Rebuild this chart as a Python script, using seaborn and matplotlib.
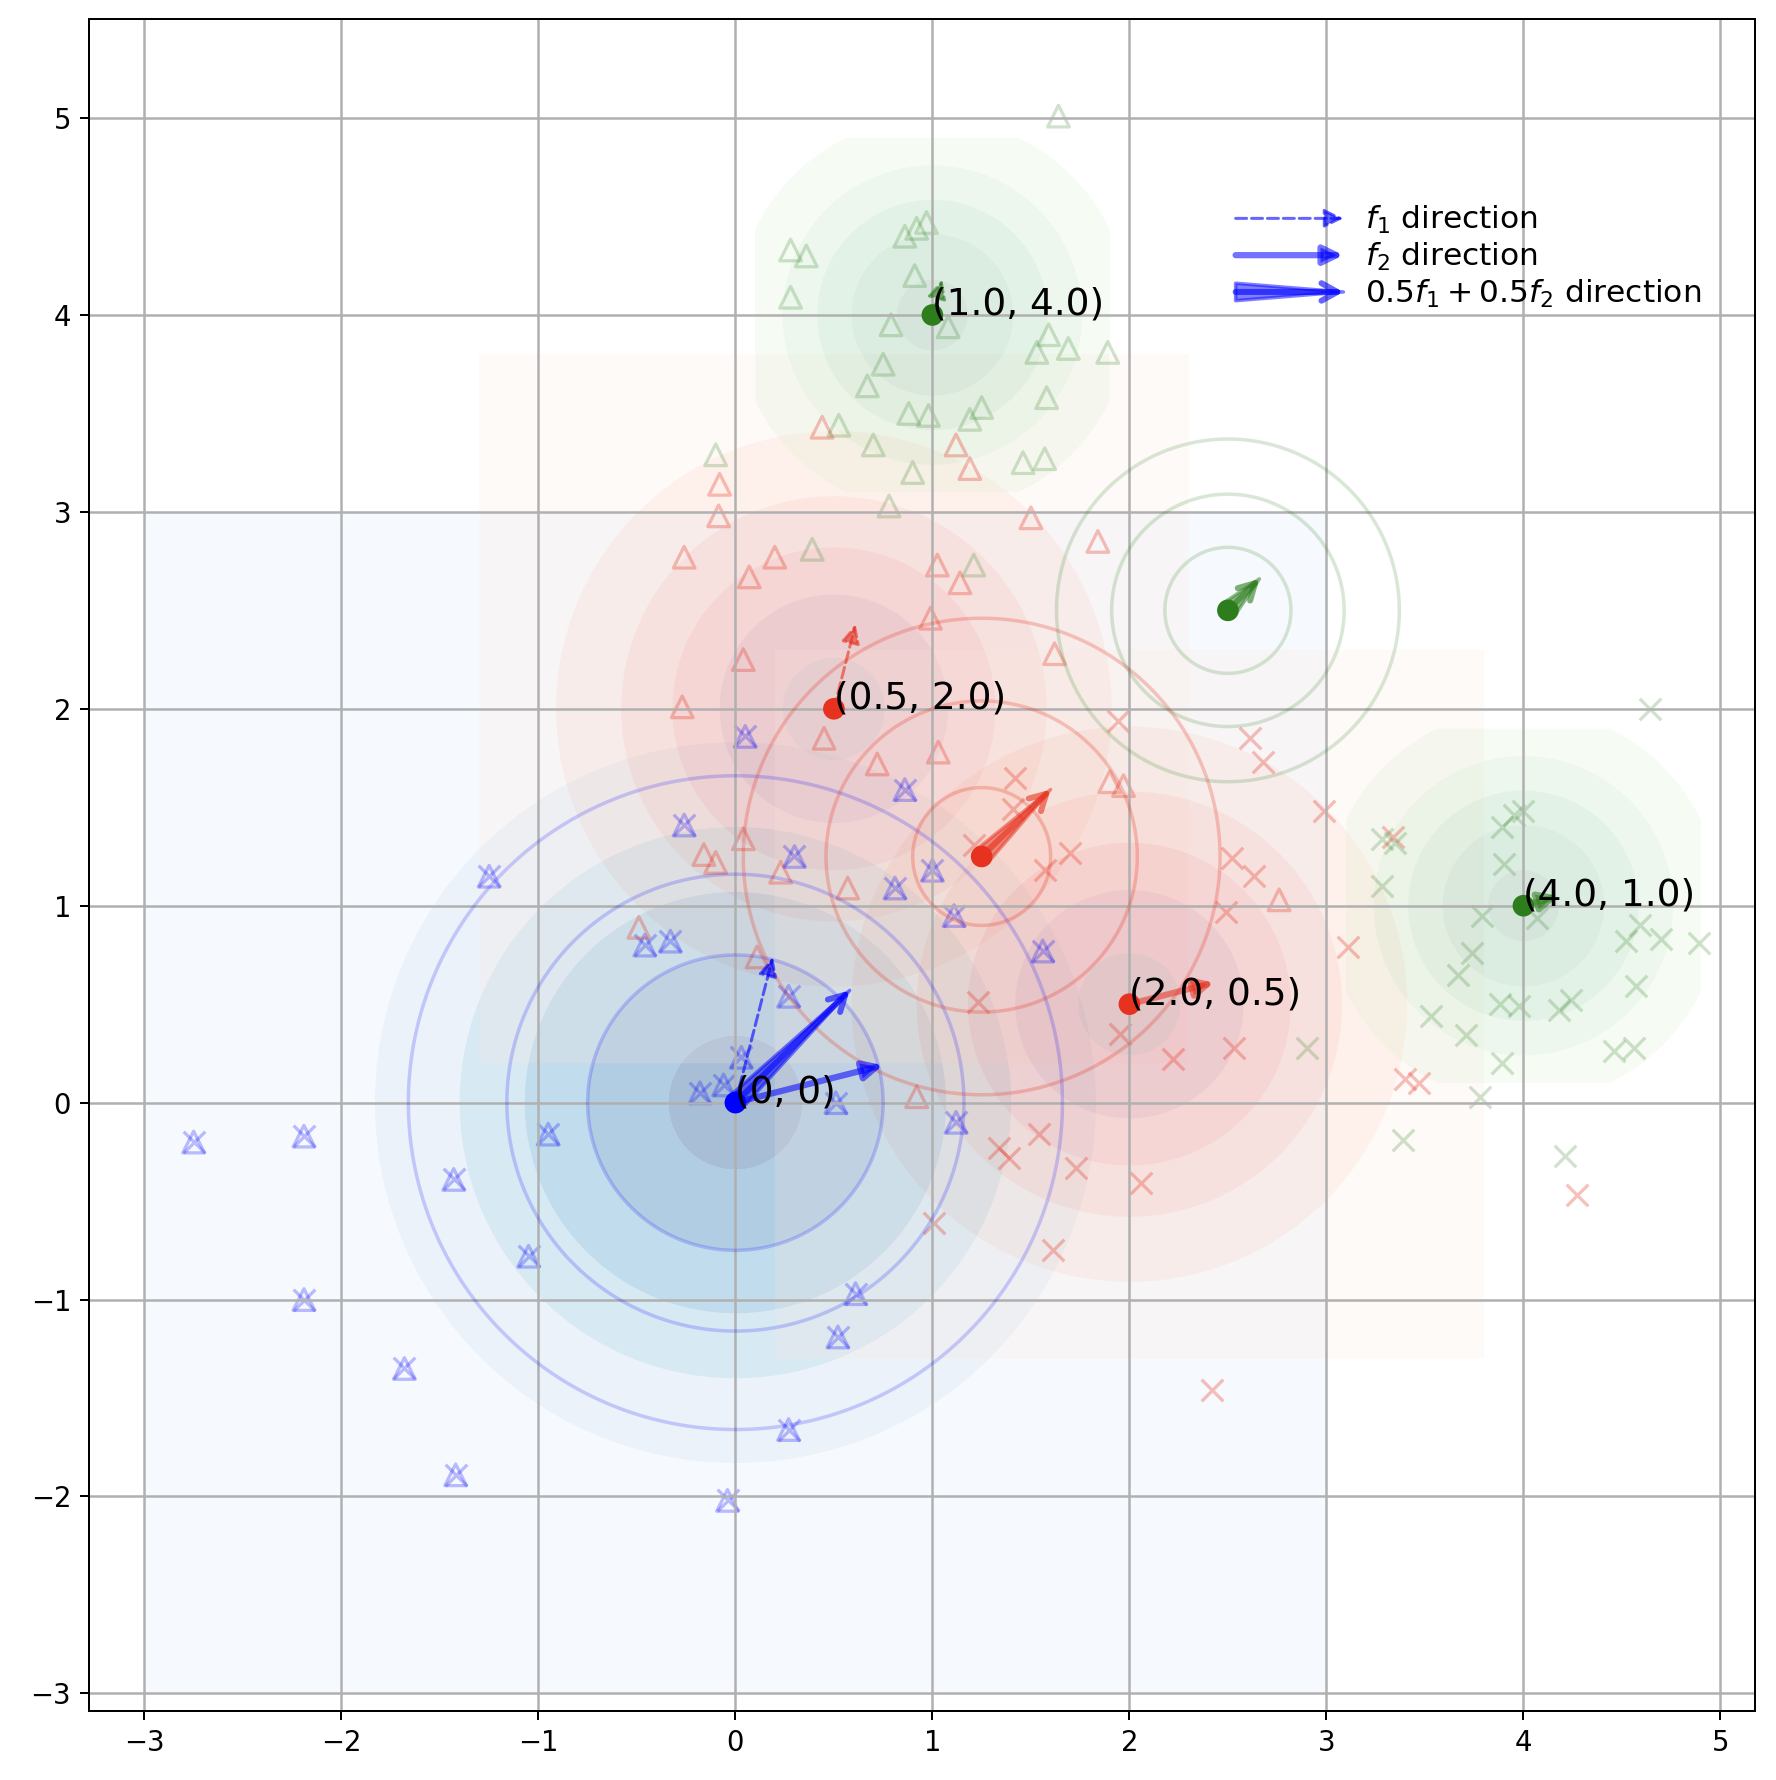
import numpy as np
import matplotlib.pyplot as plt
import seaborn as sns
from matplotlib.patches import FancyArrowPatch
from matplotlib.legend_handler import HandlerPatch

# ---- data ------------------------------------------------------------------
blue_c = (0.0, 0.0)
blue_fill_r = [0.34, 0.75, 1.07, 1.40, 1.83]
blue_box = 3.0
blue_line_r = [0.75, 1.16, 1.66]

red_c = [(0.5, 2.0), (2.0, 0.5)]
red_fill_r = [0.26, 0.58, 0.82, 1.08, 1.41]
red_box = 1.8
red_line_c = (1.25, 1.25)
red_line_r = [0.35, 0.79, 1.21]

green_c = [(1.0, 4.0), (4.0, 1.0)]
green_fill_r = [0.18, 0.41, 0.585, 0.76, 1.0]
green_box = 0.9
green_line_c = (2.5, 2.5)
green_line_r = [0.32, 0.59, 0.87]

blue_x = [-2.75, -2.19, -2.19, -1.68, -1.43, -1.42, -1.25, -1.05, -0.95, -0.46,
          -0.33, -0.26, -0.18, -0.06, -0.04, 0.03, 0.05, 0.27, 0.27, 0.30,
          0.51, 0.52, 0.61, 0.81, 0.86, 1.00, 1.11, 1.12, 1.56]
blue_y = [-0.20, -0.17, -1.00, -1.35, -0.39, -1.89, 1.15, -0.78, -0.16, 0.80,
          0.82, 1.41, 0.05, 0.09, -2.02, 0.23, 1.86, 0.54, -1.66, 1.25,
          0.00, -1.19, -0.97, 1.09, 1.59, 1.18, 0.95, -0.10, 0.77]

red_tri_x = [0.44, -0.08, -0.085, -0.26, 0.20, 0.07, 1.12, 1.19, 1.50, 1.025,
             1.14, 0.99, 1.62, 1.84, 0.04, -0.27, 0.45, 0.72, 1.03, 0.04,
             -0.16, -0.10, 0.23, 0.57, -0.49, 0.11, 0.92, 1.90, 1.97, 2.76]
red_tri_y = [3.43, 3.14, 2.98, 2.77, 2.77, 2.67, 3.34, 3.22, 2.97, 2.73,
             2.64, 2.46, 2.28, 2.85, 2.25, 2.01, 1.85, 1.72, 1.78, 1.34,
             1.26, 1.22, 1.17, 1.09, 0.89, 0.74, 0.03, 1.63, 1.61, 1.03]

red_x_x = [1.94, 2.61, 2.68, 1.42, 1.41, 2.99, 1.70, 1.57, 1.21, 2.52,
           2.63, 2.49, 3.11, 3.34, 1.23, 1.95, 2.22, 2.53, 1.54, 1.34,
           1.39, 1.73, 2.06, 1.61, 1.01, 2.42, 3.40, 3.47, 4.27]
red_x_y = [1.94, 1.85, 1.73, 1.65, 1.49, 1.48, 1.27, 1.18, 1.31, 1.24,
           1.15, 0.97, 0.79, 1.35, 0.51, 0.35, 0.22, 0.28, -0.16, -0.23,
           -0.28, -0.33, -0.41, -0.75, -0.61, -1.46, 0.12, 0.10, -0.47]

green_tri_x = [1.64, 0.28, 0.36, 0.86, 0.92, 0.97, 0.28, 0.91, 0.79, 1.08,
               1.59, 1.53, 1.69, 1.89, 0.75, 0.67, 1.58, 0.88, 0.98, 1.19,
               1.25, 0.525, 0.70, 0.90, 1.46, 1.57, -0.10, 0.78, 0.39, 1.21]
green_tri_y = [5.01, 4.33, 4.30, 4.40, 4.44, 4.47, 4.09, 4.20, 3.95, 3.94,
               3.90, 3.81, 3.83, 3.81, 3.75, 3.64, 3.58, 3.50, 3.49, 3.47,
               3.53, 3.44, 3.34, 3.20, 3.25, 3.27, 3.29, 3.03, 2.81, 2.73]

green_x_x = [4.64, 3.89, 3.95, 4.00, 3.28, 3.35, 3.90, 3.28, 3.79, 4.07,
             4.59, 4.52, 4.70, 4.89, 3.74, 3.67, 4.57, 3.88, 3.98, 4.24,
             4.18, 3.53, 3.71, 3.89, 4.46, 4.56, 2.90, 3.78, 3.39, 4.21]
green_x_y = [2.00, 1.40, 1.46, 1.48, 1.34, 1.32, 1.21, 1.10, 0.95, 0.94,
             0.90, 0.82, 0.83, 0.81, 0.76, 0.65, 0.59, 0.50, 0.49, 0.52,
             0.47, 0.44, 0.345, 0.20, 0.26, 0.28, 0.28, 0.03, -0.19, -0.27]

dot_x = [0.0, 0.5, 2.0, 1.25, 1.0, 4.0, 2.5]
dot_y = [0.0, 2.0, 0.5, 1.25, 4.0, 1.0, 2.5]
dot_group = ['b', 'r', 'r', 'r', 'g', 'g', 'g']

label_pts = [(0.0, 0.0), (0.5, 2.0), (2.0, 0.5), (1.0, 4.0), (4.0, 1.0)]
label_txt = ['(0, 0)', '(0.5, 2.0)', '(2.0, 0.5)', '(1.0, 4.0)', '(4.0, 1.0)']

# arrows: start -> end, colour group
f1_start = [(0.0, 0.0), (0.5, 2.0), (1.0, 4.0)]
f1_end = [(0.19, 0.74), (0.61, 2.43), (1.05, 4.18)]
f1_group = ['b', 'r', 'g']
f2_start = [(0.0, 0.0), (2.0, 0.5), (4.0, 1.0)]
f2_end = [(0.75, 0.19), (2.43, 0.61), (4.18, 1.05)]
f2_group = ['b', 'r', 'g']
mix_start = [(0.0, 0.0), (1.25, 1.25), (2.5, 2.5)]
mix_end = [(0.58, 0.57), (1.60, 1.59), (2.66, 2.66)]
mix_group = ['b', 'r', 'g']

col = {'b': '#0000ff', 'r': '#e6321f', 'g': '#2d7d1d'}

# ---- figure --------------------------------------------------------------
fig = plt.figure(figsize=(1776 / 180, 1780 / 180), dpi=180)
ax = fig.add_axes([0.0499, 0.0386, 0.938, 0.9506])


def rings(c, radii, half, cmap, alpha, outer=True):
    g0 = np.linspace(c[0] - half, c[0] + half, 401)
    g1 = np.linspace(c[1] - half, c[1] + half, 401)
    X, Y = np.meshgrid(g0, g1)
    D = np.hypot(X - c[0], Y - c[1])
    shades = plt.get_cmap(cmap)(np.linspace(1 / 12, 11 / 12, 6))[::-1]
    levels = [0] + list(radii)
    if outer:
        levels.append(D.max() + 1)
    ax.contourf(X, Y, D, levels=levels, colors=shades[:len(levels) - 1],
                alpha=alpha, antialiased=True)


def circles(c, radii, color, alpha):
    half = max(radii) + 0.2
    g0 = np.linspace(c[0] - half, c[0] + half, 401)
    g1 = np.linspace(c[1] - half, c[1] + half, 401)
    X, Y = np.meshgrid(g0, g1)
    D = np.hypot(X - c[0], Y - c[1])
    ax.contour(X, Y, D, levels=radii, colors=[color], alpha=alpha,
               linewidths=1.4, zorder=2)


rings(blue_c, blue_fill_r, blue_box, 'Blues', 0.35)
for c in red_c:
    rings(c, red_fill_r, red_box, 'Reds', 0.2)
for c in green_c:
    rings(c, green_fill_r, green_box, 'Greens', 0.16, outer=False)

circles(blue_c, blue_line_r, col['b'], 0.18)
circles(red_line_c, red_line_r, col['r'], 0.25)
circles(green_line_c, green_line_r, col['g'], 0.18)

# point clouds
tri = dict(marker='^', s=75, facecolor='none', linewidth=1.3, ax=ax, legend=False)
crs = dict(marker='x', s=75, linewidth=1.3, ax=ax, legend=False)
sns.scatterplot(x=blue_x, y=blue_y, edgecolor=col['b'], alpha=0.25, **tri)
sns.scatterplot(x=blue_x, y=blue_y, color=col['b'], alpha=0.25, **crs)
sns.scatterplot(x=red_tri_x, y=red_tri_y, edgecolor=col['r'], alpha=0.3, **tri)
sns.scatterplot(x=red_x_x, y=red_x_y, color=col['r'], alpha=0.3, **crs)
sns.scatterplot(x=green_tri_x, y=green_tri_y, edgecolor=col['g'], alpha=0.22, **tri)
sns.scatterplot(x=green_x_x, y=green_x_y, color=col['g'], alpha=0.22, **crs)

# arrow styles
f1_kw = dict(arrowstyle='-|>,head_length=0.45,head_width=0.22', ls='--', lw=1.2,
             alpha=0.6, mutation_scale=14, shrinkA=0, shrinkB=0)
f2_kw = dict(arrowstyle='-|>,head_length=0.45,head_width=0.22', lw=2.5,
             alpha=0.55, mutation_scale=14, shrinkA=0, shrinkB=0)
wedge_kw = dict(arrowstyle='wedge,tail_width=0.5,shrink_factor=0.5', lw=1.4,
                alpha=0.5, mutation_scale=14, shrinkA=0, shrinkB=0)
chev_kw = dict(arrowstyle='->,head_length=0.45,head_width=0.25', lw=2.4,
               alpha=0.6, mutation_scale=14, shrinkA=0, shrinkB=0)

for s, e, g in zip(f1_start, f1_end, f1_group):
    ax.annotate('', xy=e, xytext=s, arrowprops=dict(color=col[g], **f1_kw), zorder=3)
for s, e, g in zip(f2_start, f2_end, f2_group):
    ax.annotate('', xy=e, xytext=s, arrowprops=dict(color=col[g], **f2_kw), zorder=3)
for s, e, g in zip(mix_start, mix_end, mix_group):
    ax.annotate('', xy=e, xytext=s, arrowprops=dict(color=col[g], **wedge_kw), zorder=3)
    ax.annotate('', xy=e, xytext=s, arrowprops=dict(color=col[g], **chev_kw), zorder=3)

# centre dots and labels
sns.scatterplot(x=dot_x, y=dot_y, hue=dot_group, palette=col, s=75,
                linewidth=0, ax=ax, legend=False, zorder=4)
for (px, py), t in zip(label_pts, label_txt):
    ax.text(px, py, t, fontsize=15, ha='left', va='baseline', zorder=5)

# legend with arrow handles
h1 = FancyArrowPatch((0, 0), (1, 0), color=col['b'], **f1_kw)
h2 = FancyArrowPatch((0, 0), (1, 0), color=col['b'], **f2_kw)
h3a = FancyArrowPatch((0, 0), (1, 0), color=col['b'], **wedge_kw)
h3b = FancyArrowPatch((0, 0), (1, 0), color=col['b'], **chev_kw)


def arrow_handle(legend, orig_handle, xdescent, ydescent, width, height, fontsize):
    return FancyArrowPatch((-xdescent, height / 2 - ydescent),
                           (width - xdescent, height / 2 - ydescent),
                           arrowstyle=orig_handle.get_arrowstyle(),
                           mutation_scale=orig_handle.get_mutation_scale(),
                           shrinkA=0, shrinkB=0)


ax.legend([h1, h2, (h3a, h3b)],
          [r'$f_1$ direction', r'$f_2$ direction', r'$0.5f_1 + 0.5f_2$ direction'],
          handler_map={FancyArrowPatch: HandlerPatch(patch_func=arrow_handle)},
          loc='upper left', bbox_to_anchor=(0.681, 0.898), frameon=False,
          fontsize=12.5, handlelength=3.45, handletextpad=0.7, labelspacing=0.15,
          borderaxespad=0)

ax.set_xlim(-3.283, 5.173)
ax.set_ylim(-3.091, 5.502)
ax.set_xticks(range(-3, 6))
ax.set_yticks(range(-3, 6))
ax.tick_params(labelsize=11)
ax.grid(True, color='#b0b0b0', lw=1.0)

fig.savefig('out.png', dpi=180)
